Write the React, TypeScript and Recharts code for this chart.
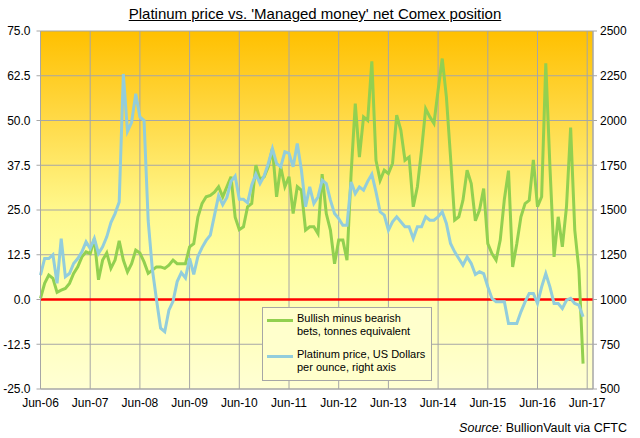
import React from 'react';
import { ComposedChart, Line, XAxis, YAxis, CartesianGrid, ReferenceLine, Legend } from 'recharts';

// one point per month, starting Jun-06
const yearLabels = ['Jun-06', 'Jun-07', 'Jun-08', 'Jun-09', 'Jun-10', 'Jun-11', 'Jun-12', 'Jun-13', 'Jun-14', 'Jun-15', 'Jun-16', 'Jun-17'];

// Managed money net position, tonnes equivalent (left axis)
const netBets = [
  0.3, 4.5, 6.8, 5.9, 2.0, 2.6, 3.1, 4.5, 7.3, 9.1, 11.9, 13.3,
  12.8, 17.0, 5.5, 11.0, 13.0, 8.7, 11.0, 16.4, 11.0, 7.7, 10.0, 13.8,
  13.0, 10.5, 7.3, 8.2, 9.1, 9.1, 8.7, 9.6, 11.0, 10.0, 10.0, 10.0,
  14.7, 15.6, 23.0, 26.8, 28.7, 29.1, 30.0, 31.5, 28.7, 31.5, 34.3, 23.0,
  19.5, 20.3, 25.9, 26.8, 37.5, 33.5, 34.3, 37.1, 42.2, 28.7, 37.1, 31.5,
  34.3, 24.0, 31.5, 30.5, 19.4, 20.3, 20.3, 18.4, 35.0, 24.0, 19.4, 10.0,
  16.6, 16.6, 11.0, 35.2, 54.7, 39.8, 51.0, 50.0, 66.5, 38.9, 33.3, 36.1,
  35.2, 38.0, 51.5, 47.3, 38.9, 39.8, 25.9, 31.5, 41.7, 53.3, 51.0, 49.2,
  58.5, 67.3, 56.6, 39.8, 22.2, 23.1, 27.7, 36.1, 32.4, 22.0, 25.0, 31.0,
  15.6, 12.8, 11.0, 16.6, 28.0, 36.0, 9.1, 15.6, 23.1, 26.8, 27.7, 39.0,
  25.9, 28.7, 66.0, 37.1, 11.9, 23.1, 14.7, 25.9, 48.0, 19.4, 8.2, -17.9,
];

// Platinum price, US$ per ounce (right axis)
const priceUsd = [
  1136, 1229, 1229, 1250, 1090, 1340, 1127, 1145, 1201, 1229, 1266, 1322,
  1285, 1341, 1257, 1294, 1350, 1430, 1480, 1545, 2260, 1940, 1990, 2150,
  2020, 2000, 1440, 1170, 1000, 840, 820, 940, 990, 1100, 1150, 1120,
  1230, 1140, 1240, 1290, 1330, 1360, 1470, 1580, 1530, 1570, 1660, 1690,
  1560, 1560, 1540, 1640, 1700, 1648, 1690, 1760, 1843, 1760, 1741, 1825,
  1816, 1741, 1871, 1722, 1518, 1629, 1536, 1573, 1667, 1648, 1555, 1480,
  1452, 1415, 1415, 1657, 1592, 1629, 1611, 1660, 1700, 1601, 1490, 1471,
  1387, 1434, 1462, 1434, 1406, 1406, 1341, 1406, 1406, 1462, 1443, 1443,
  1462, 1490, 1425, 1313, 1266, 1229, 1192, 1238, 1201, 1140, 1155, 1145,
  1071, 1006, 987, 987, 987, 866, 866, 866, 931, 987, 1034, 1034,
  978, 1071, 1145, 1071, 978, 978, 950, 996, 1006, 978, 968, 903,
];

const leftTicks = [-25, -12.5, 0, 12.5, 25, 37.5, 50, 62.5, 75];
const rightTicks = [500, 750, 1000, 1250, 1500, 1750, 2000, 2250, 2500];

const data = netBets.map((net, i) => ({ month: i, net, price: priceUsd[i] }));
const xTicks = yearLabels.map((_, i) => i * 12);

const FONT = '"Liberation Sans", Arial, sans-serif';
const GRID = '#A6A6A6';
const GREEN = '#92D050';
const BLUE = '#92CDDC';

const LegendBox = () => (
  <div
    style={{
      position: 'relative',
      width: 170,
      height: 74,
      boxSizing: 'border-box',
      background: '#FFFFCC',
      border: `1px solid ${GRID}`,
      fontFamily: FONT,
      fontSize: 11,
      lineHeight: '13.3px',
      color: '#000',
    }}
  >
    <div style={{ position: 'absolute', left: 4, top: 10.5, width: 26, height: 3, background: GREEN }} />
    <div style={{ position: 'absolute', left: 34, top: 3.5, whiteSpace: 'nowrap' }}>
      Bullish minus bearish
      <br />
      bets, tonnes equivalent
    </div>
    <div style={{ position: 'absolute', left: 4, top: 47, width: 26, height: 3, background: BLUE }} />
    <div style={{ position: 'absolute', left: 34, top: 40, whiteSpace: 'nowrap' }}>
      Platinum price, US Dollars
      <br />
      per ounce, right axis
    </div>
  </div>
);

export default function App() {
  return (
    <div style={{ position: 'absolute', left: 0, top: 0, width: 640, height: 438, background: '#fff', fontFamily: FONT }}>
      <div
        style={{
          position: 'absolute',
          left: 0,
          top: 5,
          width: 630,
          textAlign: 'center',
          fontSize: 15,
          lineHeight: '18px',
          textDecoration: 'underline',
          color: '#000',
        }}
      >
        Platinum price vs. 'Managed money' net Comex position
      </div>
      <ComposedChart
        width={640}
        height={438}
        data={data}
        margin={{ top: 31, right: 0, left: 0, bottom: 19 }}
        style={{ position: 'absolute', left: 0, top: 0 }}
      >
        <defs>
          <linearGradient id="plotBg" x1="0" y1="0" x2="0" y2="1">
            <stop offset="0%" stopColor="#FFC000" />
            <stop offset="25%" stopColor="#FFDA48" />
            <stop offset="50%" stopColor="#FFF88C" />
            <stop offset="65%" stopColor="#FFFFA2" />
            <stop offset="100%" stopColor="#FFFFD4" />
          </linearGradient>
        </defs>
        <CartesianGrid yAxisId="left" stroke={GRID} fill="url(#plotBg)" fillOpacity={1} />
        <XAxis
          type="number"
          dataKey="month"
          domain={[0, 133.4]}
          ticks={xTicks}
          interval={0}
          tickFormatter={(v: number) => yearLabels[Math.round(v / 12)]}
          height={30}
          tickLine={false}
          tickSize={4}
          tickMargin={5}
          axisLine={{ stroke: GRID }}
          tick={{ fill: '#000', fontSize: 12, fontFamily: FONT }}
        />
        <YAxis
          yAxisId="left"
          domain={[-25, 75]}
          ticks={leftTicks}
          interval={0}
          width={40.5}
          tickFormatter={(v: number) => v.toFixed(1)}
          tickSize={4}
          tickMargin={6}
          axisLine={{ stroke: GRID }}
          tickLine={{ stroke: GRID }}
          tick={{ fill: '#000', fontSize: 12, fontFamily: FONT }}
        />
        <YAxis
          yAxisId="right"
          orientation="right"
          domain={[500, 2500]}
          ticks={rightTicks}
          interval={0}
          width={47}
          tickSize={4}
          tickMargin={3}
          axisLine={{ stroke: GRID }}
          tickLine={{ stroke: GRID }}
          tick={{ fill: '#000', fontSize: 12, fontFamily: FONT }}
        />
        <ReferenceLine yAxisId="left" y={0} stroke="#FF0000" strokeWidth={2.5} />
        <Line
          yAxisId="left"
          type="linear"
          dataKey="net"
          stroke={GREEN}
          strokeWidth={3}
          dot={false}
          isAnimationActive={false}
        />
        <Line
          yAxisId="right"
          type="linear"
          dataKey="price"
          stroke={BLUE}
          strokeWidth={3}
          dot={false}
          isAnimationActive={false}
        />
        <Legend
          content={LegendBox}
          layout="horizontal"
          verticalAlign="middle"
          align="center"
          wrapperStyle={{ left: 262, top: 307, width: 170, height: 74 }}
        />
      </ComposedChart>
      <div
        style={{
          position: 'absolute',
          right: 13,
          top: 421,
          fontSize: 12.5,
          lineHeight: '14px',
          color: '#000',
          whiteSpace: 'nowrap',
        }}
      >
        <i>Source:</i> BullionVault via CFTC
      </div>
    </div>
  );
}
